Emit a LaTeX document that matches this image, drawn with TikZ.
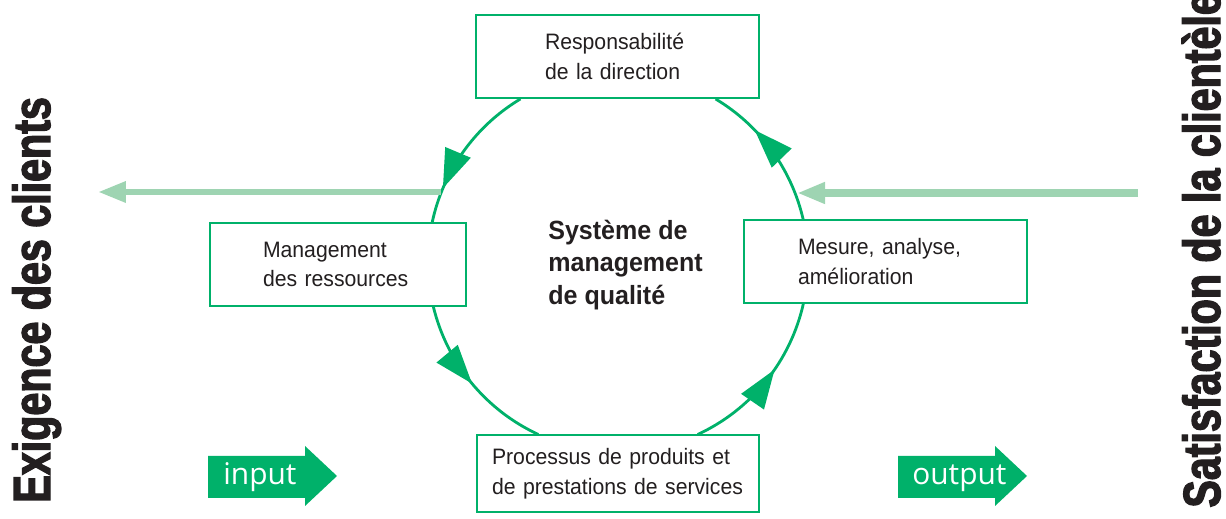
\documentclass[tikz,border=0pt]{standalone}
\usepackage{fontspec}
\setmainfont{Liberation Sans}
\newfontfamily\boxfont[FakeStretch=0.95]{Liberation Sans}
\newfontfamily\sidefont[FakeStretch=0.79,FakeBold=2.5]{Liberation Sans Bold}
\newfontfamily\iofont{Open Sans}
\usetikzlibrary{arrows.meta,decorations.markings,positioning,calc}
\definecolor{isogreen}{RGB}{0,177,106}
\definecolor{palegreen}{RGB}{158,212,178}
\definecolor{inktext}{RGB}{35,31,32}

\tikzset{
  procbox/.style={draw=isogreen, line width=1.6pt, fill=white, inner sep=0pt, align=left, text=inktext, font=\boxfont\fontsize{12.7}{16.8}\selectfont},
  ring/.style={draw=isogreen, line width=1.6pt},
  ringtip/.style={postaction={decorate}, decoration={markings, mark=at position #1 with {\arrow{Triangle[length=0.78cm,width=0.54cm]}}}},
  feedback/.style={draw=palegreen, -{Triangle[length=0.56cm,width=0.4cm]}},
  ioarrow/.style={fill=isogreen},
  iotext/.style={text=white, font=\iofont\fontsize{17}{20}\selectfont, anchor=base west, inner sep=0pt},
  sidetext/.style={rotate=90, anchor=base west, inner sep=0pt, text=inktext, font=\sidefont\fontsize{29.7}{34}\selectfont},
}

\begin{document}
\begin{tikzpicture}[x=0.02cm,y=0.02cm]
\useasboundingbox (0,0) rectangle (1226,519);
\clip (0,0) rectangle (1226,519);

% ring of the process
\coordinate (ctr) at (618,257);
\draw[ring, ringtip=0.767] (ctr) ++(120.9:190) arc[start angle=120.9, end angle=168.2, radius=190];
\draw[ring, ringtip=0.509] (ctr) ++(193.5:190) arc[start angle=193.5, end angle=245.2, radius=190];
\draw[ring, ringtip=0.584] (ctr) ++(294.8:190) arc[start angle=294.8, end angle=347.4, radius=190];
\draw[ring, ringtip=0.674] (ctr) ++(12.8:190) arc[start angle=12.8, end angle=59.1, radius=190];

% feedback lines
\coordinate (lstart) at (441,327);
\coordinate (ltip) at (98,327);
\coordinate (rstart) at (1138,326);
\coordinate (rtip) at (797,326);
\draw[feedback, line width=3.6pt] (lstart) -- (ltip);
\draw[feedback, line width=4.5pt] (rstart) -- (rtip);

% the four processes
\node[procbox, minimum width=5.66cm, minimum height=1.66cm, text width=2.9cm] (resp) at (617.5,462.5) {Responsabilité\\de la direction};
\node[procbox, minimum width=5.12cm, minimum height=1.66cm, text width=3.0cm] (res) at (338,254.5) {Management\\des ressources};
\node[procbox, minimum width=5.66cm, minimum height=1.66cm, text width=3.5cm] (mes) at (885.5,257.5) {Mesure, analyse,\\amélioration};
\node[procbox, minimum width=5.64cm, minimum height=1.54cm, text width=5.04cm] (proc) at (618,45.5) {Processus de produits et\\de prestations de services};

\node[anchor=west, align=left, inner sep=0pt, text=inktext, font=\boxfont\bfseries\fontsize{15}{18.4}\selectfont] (qms) at (548,254) {Système de\\management\\de qualité};

% customers
\node[sidetext] (demand) at (50,16) {Exigence des clients};
\node[sidetext] (satis) at (1220,11) {Satisfaction de la clientèle};

% input / output
\fill[ioarrow] (208,63) -- (305,63) -- (305,73) -- (337,43) -- (305,13) -- (305,21) -- (208,21) -- cycle;
\fill[ioarrow] (898,63) -- (995,63) -- (995,73) -- (1027,43) -- (995,13) -- (995,21) -- (898,21) -- cycle;
\node[iotext] (intxt) at (223,34) {input};
\node[iotext] (outtxt) at (912,34) {output};
\end{tikzpicture}
\end{document}
